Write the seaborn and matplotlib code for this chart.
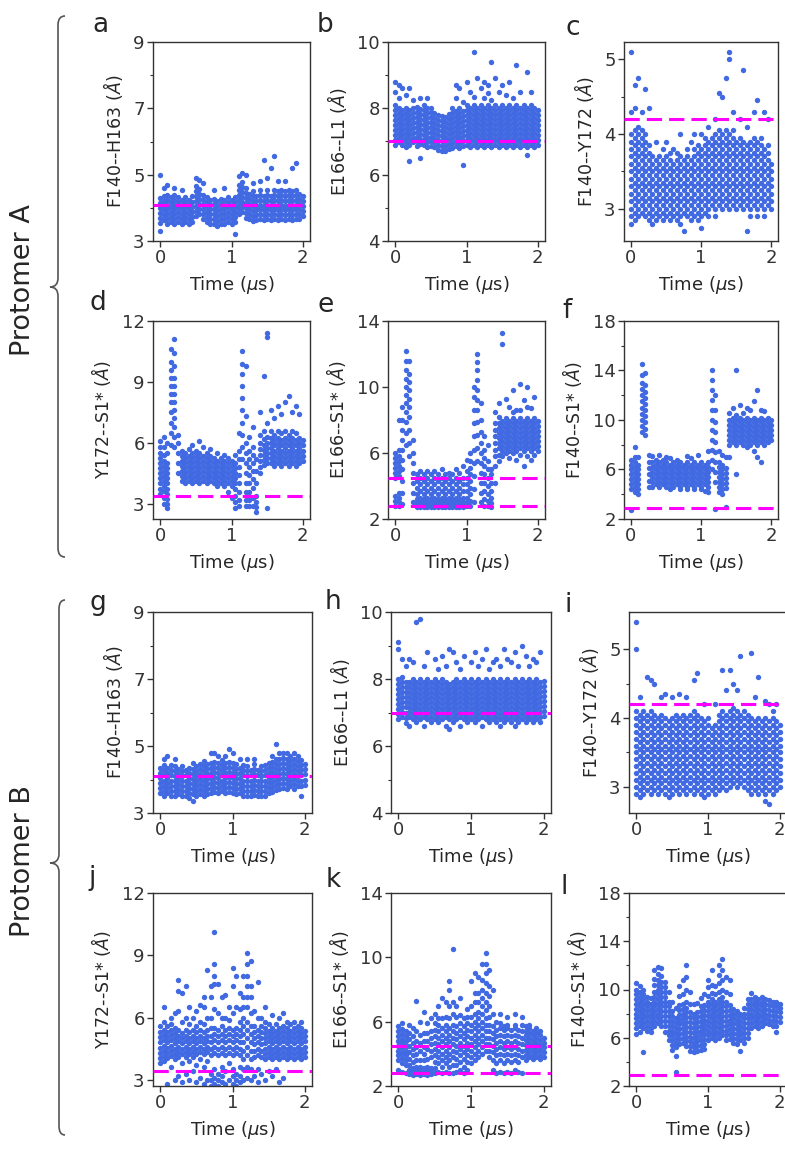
import pandas as pd
import matplotlib
matplotlib.use("Agg")
import matplotlib.pyplot as plt
import seaborn as sns
from matplotlib.path import Path
from matplotlib.patches import PathPatch

# simulation time (microseconds), one column of samples per entry
TIME = [0.00, 0.05, 0.10, 0.15, 0.20, 0.25, 0.30, 0.35, 0.40, 0.45,
        0.50, 0.55, 0.60, 0.65, 0.70, 0.75, 0.80, 0.85, 0.90, 0.95,
        1.00, 1.05, 1.10, 1.15, 1.20, 1.25, 1.30, 1.35, 1.40, 1.45,
        1.50, 1.55, 1.60, 1.65, 1.70, 1.75, 1.80, 1.85, 1.90, 1.95, 2.00]

# ---- Protomer A ----
A_F140_H163 = [
    [3.3, 3.55, 3.7, 3.85, 4.0, 4.15, 4.3, 5.0], [3.62, 3.77, 3.92, 4.07, 4.22, 4.37, 4.6],
    [3.5, 3.65, 3.8, 3.95, 4.1, 4.25, 4.4, 4.7], [3.57, 3.72, 3.87, 4.02, 4.17, 4.32],
    [3.5, 3.65, 3.8, 3.95, 4.1, 4.25, 4.4, 4.6], [3.57, 3.72, 3.87, 4.02, 4.17, 4.32],
    [3.5, 3.65, 3.8, 3.95, 4.1, 4.25, 4.55], [3.57, 3.72, 3.87, 4.02, 4.17, 4.32],
    [3.5, 3.65, 3.8, 3.95, 4.1, 4.25], [3.57, 3.72, 3.87, 4.02, 4.17, 4.35],
    [3.75, 3.9, 4.05, 4.2, 4.35, 4.5, 4.65, 4.9], [3.82, 3.97, 4.12, 4.27, 4.42, 4.57, 4.85],
    [3.65, 3.8, 3.95, 4.1, 4.25, 4.4, 4.75], [3.57, 3.72, 3.87, 4.02, 4.17, 4.32],
    [3.5, 3.65, 3.8, 3.95, 4.1, 4.25], [3.52, 3.67, 3.82, 3.97, 4.12, 4.27, 4.55],
    [3.45, 3.6, 3.75, 3.9, 4.05, 4.2], [3.52, 3.67, 3.82, 3.97, 4.12, 4.27],
    [3.5, 3.65, 3.8, 3.95, 4.1, 4.25, 4.6], [3.57, 3.72, 3.87, 4.02, 4.17, 4.32],
    [3.5, 3.65, 3.8, 3.95, 4.1, 4.25], [3.2, 3.57, 3.72, 3.87, 4.02, 4.17, 4.32],
    [3.8, 3.95, 4.1, 4.25, 4.4, 4.55, 4.7, 4.95], [3.87, 4.02, 4.17, 4.32, 4.47, 4.62, 4.77, 5.05],
    [3.7, 3.85, 4.0, 4.15, 4.3, 4.45, 4.6, 5.0], [3.67, 3.82, 3.97, 4.12, 4.27, 4.42],
    [3.6, 3.75, 3.9, 4.05, 4.2, 4.35, 4.5, 4.75], [3.62, 3.77, 3.92, 4.07, 4.22, 4.37],
    [3.65, 3.8, 3.95, 4.1, 4.25, 4.4, 4.55, 4.8], [3.62, 3.77, 3.92, 4.07, 4.22, 4.37, 5.45],
    [3.65, 3.8, 3.95, 4.1, 4.25, 4.4, 4.55, 4.9], [3.62, 3.77, 3.92, 4.07, 4.22, 4.37, 5.2],
    [3.65, 3.8, 3.95, 4.1, 4.25, 4.4, 4.55, 5.55], [3.62, 3.77, 3.92, 4.07, 4.22, 4.37, 4.52, 4.8],
    [3.65, 3.8, 3.95, 4.1, 4.25, 4.4, 4.55], [3.62, 3.77, 3.92, 4.07, 4.22, 4.37, 4.52, 4.8],
    [3.65, 3.8, 3.95, 4.1, 4.25, 4.4, 4.55], [3.62, 3.77, 3.92, 4.07, 4.22, 4.37, 4.52, 5.2],
    [3.65, 3.8, 3.95, 4.1, 4.25, 4.4, 4.55, 5.35], [3.67, 3.82, 3.97, 4.12, 4.27, 4.42],
    [3.75, 3.9, 4.05, 4.2, 4.35],
]

A_E166_L1 = [
    [6.9, 7.05, 7.2, 7.35, 7.5, 7.65, 7.8, 7.95, 8.1, 8.8, 8.5],
    [6.97, 7.12, 7.27, 7.42, 7.57, 7.72, 7.87, 8.02, 8.7, 8.3],
    [6.9, 7.05, 7.2, 7.35, 7.5, 7.65, 7.8, 7.95, 8.6],
    [6.82, 6.97, 7.12, 7.27, 7.42, 7.57, 7.72, 7.87, 8.02, 8.4],
    [6.4, 6.9, 7.05, 7.2, 7.35, 7.5, 7.65, 7.8, 7.95, 8.6],
    [6.97, 7.12, 7.27, 7.42, 7.57, 7.72, 7.87, 8.02, 8.25],
    [6.85, 7.0, 7.15, 7.3, 7.45, 7.6, 7.75, 7.9, 8.05],
    [6.5, 6.92, 7.07, 7.22, 7.37, 7.52, 7.67, 7.82, 7.97, 8.3],
    [6.9, 7.05, 7.2, 7.35, 7.5, 7.65, 7.8, 7.95, 8.1],
    [6.82, 6.97, 7.12, 7.27, 7.42, 7.57, 7.72, 7.87, 8.02, 8.3],
    [6.85, 7.0, 7.15, 7.3, 7.45, 7.6, 7.75, 7.9, 8.0],
    [6.82, 6.97, 7.12, 7.27, 7.42, 7.57, 7.72, 7.87],
    [6.75, 6.9, 7.05, 7.2, 7.35, 7.5, 7.65, 7.8],
    [6.72, 6.87, 7.02, 7.17, 7.32, 7.47, 7.62, 7.77],
    [6.7, 6.85, 7.0, 7.15, 7.3, 7.45, 7.6, 7.75],
    [6.77, 6.92, 7.07, 7.22, 7.37, 7.52, 7.67, 7.82],
    [6.8, 6.95, 7.1, 7.25, 7.4, 7.55, 7.7, 7.85, 8.0],
    [6.87, 7.02, 7.17, 7.32, 7.47, 7.62, 7.77, 7.92, 8.3, 8.7],
    [6.8, 6.95, 7.1, 7.25, 7.4, 7.55, 7.7, 7.85, 8.0, 8.6],
    [6.3, 6.87, 7.02, 7.17, 7.32, 7.47, 7.62, 7.77, 7.92, 8.2],
    [6.9, 7.05, 7.2, 7.35, 7.5, 7.65, 7.8, 7.95, 8.1, 8.8],
    [6.82, 6.97, 7.12, 7.27, 7.42, 7.57, 7.72, 7.87, 8.02, 8.5],
    [6.9, 7.05, 7.2, 7.35, 7.5, 7.65, 7.8, 7.95, 8.1, 8.35, 9.7],
    [6.82, 6.97, 7.12, 7.27, 7.42, 7.57, 7.72, 7.87, 8.02, 8.9],
    [6.9, 7.05, 7.2, 7.35, 7.5, 7.65, 7.8, 7.95, 8.1, 8.6],
    [6.82, 6.97, 7.12, 7.27, 7.42, 7.57, 7.72, 7.87, 8.02, 8.3, 8.8],
    [6.9, 7.05, 7.2, 7.35, 7.5, 7.65, 7.8, 7.95, 8.1, 8.45, 8.7],
    [6.82, 6.97, 7.12, 7.27, 7.42, 7.57, 7.72, 7.87, 8.02, 8.25, 9.4],
    [6.9, 7.05, 7.2, 7.35, 7.5, 7.65, 7.8, 7.95, 8.1, 8.9],
    [6.82, 6.97, 7.12, 7.27, 7.42, 7.57, 7.72, 7.87, 8.02, 8.5],
    [6.9, 7.05, 7.2, 7.35, 7.5, 7.65, 7.8, 7.95, 8.1, 8.7],
    [6.82, 6.97, 7.12, 7.27, 7.42, 7.57, 7.72, 7.87, 8.02, 8.4],
    [6.9, 7.05, 7.2, 7.35, 7.5, 7.65, 7.8, 7.95, 8.1, 8.8],
    [6.82, 6.97, 7.12, 7.27, 7.42, 7.57, 7.72, 7.87, 8.02, 8.3],
    [6.9, 7.05, 7.2, 7.35, 7.5, 7.65, 7.8, 7.95, 8.1, 9.3],
    [6.82, 6.97, 7.12, 7.27, 7.42, 7.57, 7.72, 7.87, 8.02, 8.5],
    [6.9, 7.05, 7.2, 7.35, 7.5, 7.65, 7.8, 7.95, 8.1],
    [6.6, 6.82, 6.97, 7.12, 7.27, 7.42, 7.57, 7.72, 7.87, 8.02, 9.1],
    [6.9, 7.05, 7.2, 7.35, 7.5, 7.65, 7.8, 7.95, 8.1, 8.5],
    [6.82, 6.97, 7.12, 7.27, 7.42, 7.57, 7.72, 7.87, 8.02],
    [6.9, 7.05, 7.2, 7.35, 7.5, 7.65, 7.8, 7.95],
]

A_F140_Y172 = [
    [2.8, 2.9, 3.0, 3.1, 3.2, 3.3, 3.4, 3.5, 3.6, 3.7, 3.8, 3.9, 4.0, 4.3, 5.1],
    [2.85, 2.95, 3.05, 3.15, 3.25, 3.35, 3.45, 3.55, 3.65, 3.75, 3.85, 3.95, 4.05, 4.35, 4.65],
    [2.9, 3.0, 3.1, 3.2, 3.3, 3.4, 3.5, 3.6, 3.7, 3.8, 3.9, 4.0, 4.1, 4.75],
    [2.95, 3.05, 3.15, 3.25, 3.35, 3.45, 3.55, 3.65, 3.75, 3.85, 3.95, 4.05, 4.3],
    [2.9, 3.0, 3.1, 3.2, 3.3, 3.4, 3.5, 3.6, 3.7, 3.8, 3.9, 4.0, 4.6],
    [2.85, 2.95, 3.05, 3.15, 3.25, 3.35, 3.45, 3.55, 3.65, 3.75, 3.85, 4.35],
    [2.8, 2.9, 3.0, 3.1, 3.2, 3.3, 3.4, 3.5, 3.6, 3.7],
    [2.85, 2.95, 3.05, 3.15, 3.25, 3.35, 3.45, 3.55, 3.65, 3.9],
    [2.9, 3.0, 3.1, 3.2, 3.3, 3.4, 3.5, 3.6, 3.7],
    [2.85, 2.95, 3.05, 3.15, 3.25, 3.35, 3.45, 3.55, 3.65, 3.8],
    [2.9, 3.0, 3.1, 3.2, 3.3, 3.4, 3.5, 3.6, 3.7, 3.9],
    [2.85, 2.95, 3.05, 3.15, 3.25, 3.35, 3.45, 3.55, 3.65, 3.75],
    [2.9, 3.0, 3.1, 3.2, 3.3, 3.4, 3.5, 3.6, 3.8],
    [2.85, 2.95, 3.05, 3.15, 3.25, 3.35, 3.45, 3.55, 3.65, 3.75],
    [2.8, 2.9, 3.0, 3.1, 3.2, 3.3, 3.4, 3.5, 3.6, 3.7, 4.0],
    [2.7, 2.95, 3.05, 3.15, 3.25, 3.35, 3.45, 3.55, 3.65],
    [2.9, 3.0, 3.1, 3.2, 3.3, 3.4, 3.5, 3.6, 3.7, 3.8],
    [2.85, 2.95, 3.05, 3.15, 3.25, 3.35, 3.45, 3.55, 3.65, 3.9],
    [2.9, 3.0, 3.1, 3.2, 3.3, 3.4, 3.5, 3.6, 3.7, 3.8, 4.0],
    [2.85, 2.95, 3.05, 3.15, 3.25, 3.35, 3.45, 3.55, 3.65, 3.75, 3.85],
    [2.75, 2.9, 3.0, 3.1, 3.2, 3.3, 3.4, 3.5, 3.6, 3.7, 3.8, 4.0],
    [2.95, 3.05, 3.15, 3.25, 3.35, 3.45, 3.55, 3.65, 3.75, 3.85, 3.95],
    [2.9, 3.0, 3.1, 3.2, 3.3, 3.4, 3.5, 3.6, 3.7, 3.8, 3.9, 4.1],
    [3.05, 3.15, 3.25, 3.35, 3.45, 3.55, 3.65, 3.75, 3.85, 3.95],
    [2.9, 3.0, 3.1, 3.2, 3.3, 3.4, 3.5, 3.6, 3.7, 3.8, 3.9, 4.0, 4.2],
    [3.05, 3.15, 3.25, 3.35, 3.45, 3.55, 3.65, 3.75, 3.85, 3.95, 4.05, 4.55],
    [3.0, 3.1, 3.2, 3.3, 3.4, 3.5, 3.6, 3.7, 3.8, 3.9, 4.0, 4.5],
    [3.05, 3.15, 3.25, 3.35, 3.45, 3.55, 3.65, 3.75, 3.85, 3.95, 4.05, 4.75],
    [3.0, 3.1, 3.2, 3.3, 3.4, 3.5, 3.6, 3.7, 3.8, 3.9, 4.0, 5.0, 5.1],
    [3.05, 3.15, 3.25, 3.35, 3.45, 3.55, 3.65, 3.75, 3.85, 3.95, 4.05, 4.3],
    [3.0, 3.1, 3.2, 3.3, 3.4, 3.5, 3.6, 3.7, 3.8, 3.9],
    [3.05, 3.15, 3.25, 3.35, 3.45, 3.55, 3.65, 3.75, 3.85, 3.95, 4.2],
    [3.0, 3.1, 3.2, 3.3, 3.4, 3.5, 3.6, 3.7, 3.8, 3.9, 4.85],
    [2.7, 3.05, 3.15, 3.25, 3.35, 3.45, 3.55, 3.65, 3.75, 3.85, 4.1],
    [2.9, 3.0, 3.1, 3.2, 3.3, 3.4, 3.5, 3.6, 3.7, 3.8, 3.9],
    [3.05, 3.15, 3.25, 3.35, 3.45, 3.55, 3.65, 3.75, 3.85, 3.95, 4.3],
    [2.9, 3.0, 3.1, 3.2, 3.3, 3.4, 3.5, 3.6, 3.7, 3.8, 3.9, 4.45],
    [3.05, 3.15, 3.25, 3.35, 3.45, 3.55, 3.65, 3.75, 3.85, 3.95],
    [2.9, 3.0, 3.1, 3.2, 3.3, 3.4, 3.5, 3.6, 3.7, 3.8, 4.3],
    [3.05, 3.15, 3.25, 3.35, 3.45, 3.55, 3.65, 3.75, 3.85, 4.2],
    [3.0, 3.1, 3.2, 3.3, 3.4, 3.5, 3.6],
]

A_Y172_S1 = [
    [3.5, 3.75, 4.0, 4.25, 4.5, 4.75, 5.0, 5.25, 5.5, 5.8, 6.1],
    [3.0, 3.3, 3.62, 3.87, 4.12, 4.37, 4.62, 4.87, 5.12, 5.4, 5.8, 6.3],
    [2.8, 3.0, 3.25, 3.5, 3.75, 4.0, 4.25, 4.5, 4.75, 5.0, 5.5, 6.0],
    [5.9, 6.5, 7.0, 7.5, 8.0, 8.4, 8.8, 9.2, 9.6, 10.0, 10.6],
    [5.8, 6.3, 6.8, 7.2, 7.6, 8.0, 8.4, 8.8, 9.2, 9.8, 10.4, 11.1],
    [4.5, 5.0, 5.5, 6.0, 6.4],
    [4.12, 4.37, 4.62, 4.87, 5.12, 5.37, 5.6],
    [4.0, 4.25, 4.5, 4.75, 5.0, 5.25, 5.5],
    [4.12, 4.37, 4.62, 4.87, 5.12, 5.37, 5.7],
    [4.0, 4.25, 4.5, 4.75, 5.0, 5.25, 5.5, 5.9],
    [4.12, 4.37, 4.62, 4.87, 5.12, 5.37, 5.6],
    [4.0, 4.25, 4.5, 4.75, 5.0, 5.25, 5.5, 6.1],
    [4.12, 4.37, 4.62, 4.87, 5.12, 5.37, 5.8],
    [4.0, 4.25, 4.5, 4.75, 5.0, 5.25, 5.5],
    [4.12, 4.37, 4.62, 4.87, 5.12, 5.37, 5.7],
    [4.0, 4.25, 4.5, 4.75, 5.0, 5.25],
    [3.87, 4.12, 4.37, 4.62, 4.87, 5.12, 5.5],
    [4.0, 4.25, 4.5, 4.75, 5.0, 5.25],
    [3.87, 4.12, 4.37, 4.62, 4.87, 5.12, 5.4],
    [3.6, 4.0, 4.25, 4.5, 4.75, 5.0, 5.25],
    [3.3, 3.87, 4.12, 4.37, 4.62, 4.87, 5.12],
    [2.8, 3.1, 3.4, 3.75, 4.0, 4.25, 4.5, 4.75, 5.0, 5.4],
    [2.9, 3.2, 3.6, 4.0, 4.4, 4.8, 5.2, 5.6, 6.5],
    [5.2, 5.8, 6.4, 7.0, 7.6, 8.2, 8.8, 9.4, 9.9, 10.5],
    [2.9, 3.2, 3.6, 4.0, 4.5, 5.0, 5.5, 6.0, 7.3, 9.8],
    [2.9, 3.2, 3.6, 4.0, 4.4, 4.8, 5.2, 5.6, 6.3],
    [2.9, 3.3, 3.8, 4.2, 4.6, 5.0, 5.4, 5.8, 6.8],
    [2.6, 2.85, 3.1, 3.4, 4.0, 4.6, 5.2],
    [4.5, 4.8, 5.1, 5.4, 5.7, 6.0, 6.4, 7.5],
    [4.9, 5.15, 5.4, 5.65, 5.9, 6.2, 6.6, 9.3],
    [2.8, 5.0, 5.25, 5.5, 5.75, 6.0, 6.3, 7.0, 11.2, 11.4],
    [5.0, 5.25, 5.5, 5.75, 6.0, 6.25, 6.6, 7.6],
    [4.87, 5.12, 5.37, 5.62, 5.87, 6.12, 6.4, 7.2],
    [5.0, 5.25, 5.5, 5.75, 6.0, 6.25, 6.6, 7.8],
    [4.87, 5.12, 5.37, 5.62, 5.87, 6.12, 6.5, 7.4],
    [5.0, 5.25, 5.5, 5.75, 6.0, 6.25, 6.6, 8.0],
    [4.87, 5.12, 5.37, 5.62, 5.87, 6.12, 6.4, 8.3],
    [5.0, 5.25, 5.5, 5.75, 6.0, 6.25, 6.6, 7.5],
    [4.87, 5.12, 5.37, 5.62, 5.87, 6.12, 6.5, 7.8],
    [5.0, 5.25, 5.5, 5.75, 6.0, 6.25, 7.4],
    [5.12, 5.37, 5.62, 5.87, 6.12],
]

A_E166_S1 = [
    [2.8, 3.1, 3.4, 4.5, 4.8, 5.1, 5.4, 5.7, 6.0],
    [2.8, 3.0, 3.3, 3.6, 4.6, 4.9, 5.2, 5.5, 5.8, 6.2, 8.0],
    [2.9, 3.6, 4.3, 5.0, 5.6, 6.2, 6.8, 7.4, 8.0, 8.8],
    [6.5, 7.2, 7.9, 8.5, 9.0, 9.5, 10.0, 10.5, 11.0, 11.6, 12.2],
    [5.8, 6.6, 7.4, 8.2, 8.8, 9.3, 9.8, 10.3, 10.8, 11.6],
    [3.0, 3.6, 4.2, 4.8, 5.4, 6.0, 6.8],
    [2.75, 2.95, 3.2, 3.5, 3.9, 4.3, 4.7],
    [2.7, 2.85, 3.05, 3.3, 3.7, 4.1, 4.5, 4.9],
    [2.75, 2.95, 3.2, 3.5, 3.9, 4.3, 4.7],
    [2.7, 2.85, 3.05, 3.3, 3.7, 4.1, 4.5, 4.9],
    [2.75, 2.95, 3.2, 3.5, 3.9, 4.3, 4.7],
    [2.7, 2.85, 3.05, 3.3, 3.7, 4.1, 4.5, 4.9],
    [2.75, 2.95, 3.2, 3.5, 3.9, 4.3, 4.7],
    [2.7, 2.85, 3.05, 3.3, 3.7, 4.1, 4.5, 5.0],
    [2.75, 2.95, 3.2, 3.5, 3.9, 4.3, 4.7],
    [2.7, 2.85, 3.05, 3.3, 3.7, 4.1, 4.5, 4.8],
    [2.75, 2.95, 3.2, 3.5, 3.9, 4.3, 4.7],
    [2.7, 2.85, 3.05, 3.3, 3.7, 4.1, 4.5, 5.0],
    [2.75, 2.95, 3.2, 3.5, 3.9, 4.3, 4.8],
    [2.7, 2.85, 3.05, 3.3, 3.7, 4.1, 4.5, 5.2],
    [2.8, 3.0, 3.3, 3.7, 4.1, 4.5, 4.9, 5.6],
    [2.8, 3.1, 3.5, 3.9, 4.3, 4.7, 5.1, 5.5, 6.0],
    [3.0, 3.8, 4.6, 5.4, 6.2, 7.0, 7.8, 8.6, 9.4, 10.0],
    [5.5, 6.3, 7.1, 7.9, 8.6, 9.2, 9.8, 10.4, 11.0, 11.5, 12.0],
    [3.0, 3.6, 4.2, 4.8, 5.4, 6.0, 6.6, 7.3, 8.0, 9.0],
    [2.8, 3.2, 3.7, 4.2, 4.7, 5.2, 5.7, 6.2, 7.0],
    [2.8, 3.1, 3.5, 4.0, 4.5, 5.0, 5.5, 6.5],
    [2.7, 2.95, 3.3, 3.7, 4.2, 4.7, 5.0],
    [4.2, 5.2, 5.8, 6.2, 6.6, 7.0, 7.4, 7.8, 8.5],
    [5.5, 5.9, 6.3, 6.6, 6.9, 7.2, 7.5, 7.8, 8.2, 9.0],
    [5.8, 6.15, 6.45, 6.75, 7.05, 7.35, 7.65, 7.95, 12.6, 13.3],
    [6.0, 6.3, 6.6, 6.9, 7.2, 7.5, 7.8, 8.1, 9.3],
    [5.7, 6.15, 6.45, 6.75, 7.05, 7.35, 7.65, 7.95, 8.8],
    [6.0, 6.3, 6.6, 6.9, 7.2, 7.5, 7.8, 8.1, 8.5, 9.8],
    [5.6, 6.15, 6.45, 6.75, 7.05, 7.35, 7.65, 7.95, 8.6],
    [5.9, 6.3, 6.6, 6.9, 7.2, 7.5, 7.8, 8.1, 8.6, 10.2],
    [5.2, 6.15, 6.45, 6.75, 7.05, 7.35, 7.65, 7.95, 9.2],
    [5.8, 6.3, 6.6, 6.9, 7.2, 7.5, 7.8, 8.1, 8.8, 10.0],
    [5.6, 6.15, 6.45, 6.75, 7.05, 7.35, 7.65, 7.95, 8.7],
    [5.9, 6.3, 6.6, 6.9, 7.2, 7.5, 7.8, 8.1, 9.4],
    [6.15, 6.45, 6.75, 7.05, 7.35, 7.65, 7.95],
]

A_F140_S1 = [
    [2.7, 4.4, 4.8, 5.2, 5.6, 6.0, 6.4, 6.8],
    [4.2, 4.6, 5.0, 5.4, 5.8, 6.2, 6.6, 7.0, 7.8],
    [4.0, 4.4, 4.8, 5.2, 5.6, 6.0, 6.4, 7.0],
    [9.0, 9.5, 10.0, 10.5, 11.0, 11.5, 12.0, 12.5, 13.0, 13.6, 14.5],
    [8.8, 9.3, 9.8, 10.3, 10.8, 11.3, 11.8, 12.3, 12.8, 13.8],
    [4.6, 5.1, 5.6, 6.1, 6.6, 7.2],
    [4.6, 5.0, 5.4, 5.8, 6.2, 6.6, 7.1],
    [4.8, 5.2, 5.6, 6.0, 6.4, 6.8],
    [4.6, 5.0, 5.4, 5.8, 6.2, 6.6, 7.2],
    [4.8, 5.2, 5.6, 6.0, 6.4, 6.8],
    [4.6, 5.0, 5.4, 5.8, 6.2, 6.6, 7.0],
    [4.4, 4.8, 5.2, 5.6, 6.0, 6.4, 6.9],
    [4.6, 5.0, 5.4, 5.8, 6.2, 6.6],
    [4.8, 5.2, 5.6, 6.0, 6.4, 6.8],
    [4.4, 4.6, 5.0, 5.4, 5.8, 6.2, 6.6],
    [4.8, 5.2, 5.6, 6.0, 6.4],
    [4.4, 4.6, 5.0, 5.4, 5.8, 6.2, 6.6, 7.1],
    [4.8, 5.2, 5.6, 6.0, 6.4, 6.9],
    [4.4, 4.6, 5.0, 5.4, 5.8, 6.2, 6.6],
    [4.8, 5.2, 5.6, 6.0, 6.4, 7.2],
    [4.4, 4.6, 5.0, 5.4, 5.8, 6.2, 6.6],
    [4.3, 4.8, 5.2, 5.6, 6.0, 6.4],
    [4.2, 4.6, 5.0, 5.4, 5.8, 6.2, 6.6, 7.5],
    [6.0, 6.8, 7.6, 8.4, 9.2, 10.0, 10.8, 11.6, 12.4, 13.2, 14.0],
    [2.8, 5.0, 5.8, 6.6, 7.4, 8.2, 9.0, 9.8, 10.8, 12.0],
    [4.2, 4.6, 5.0, 5.4, 5.8, 6.2, 6.6, 7.5],
    [4.0, 4.4, 4.8, 5.2, 5.6, 6.0, 6.4, 7.2],
    [3.0, 4.5, 4.9, 5.3, 5.7, 6.1, 7.0],
    [7.0, 8.0, 8.4, 8.8, 9.2, 9.6, 10.0, 10.6],
    [8.2, 8.6, 9.0, 9.4, 9.8, 10.2, 11.0],
    [5.6, 8.0, 8.4, 8.8, 9.2, 9.6, 10.0, 10.4, 14.0],
    [8.2, 8.6, 9.0, 9.4, 9.8, 10.2, 11.2],
    [8.0, 8.4, 8.8, 9.2, 9.6, 10.0, 10.6],
    [7.8, 8.2, 8.6, 9.0, 9.4, 9.8, 10.2, 11.0],
    [8.0, 8.4, 8.8, 9.2, 9.6, 10.0, 10.8],
    [7.5, 8.2, 8.6, 9.0, 9.4, 9.8, 10.2, 11.5],
    [7.0, 8.0, 8.4, 8.8, 9.2, 9.6, 10.0, 12.4],
    [6.6, 8.2, 8.6, 9.0, 9.4, 9.8, 10.2, 10.8],
    [8.0, 8.4, 8.8, 9.2, 9.6, 10.0, 10.7],
    [8.2, 8.6, 9.0, 9.4, 9.8, 10.2],
    [8.4, 8.8, 9.2, 9.6, 10.0],
]

# ---- Protomer B ----
B_F140_H163 = [
    [3.6, 3.75, 3.9, 4.05, 4.2, 4.35], [3.52, 3.67, 3.82, 3.97, 4.12, 4.27, 4.42, 4.6],
    [3.6, 3.75, 3.9, 4.05, 4.2, 4.35, 4.7], [3.52, 3.67, 3.82, 3.97, 4.12, 4.27, 4.42],
    [3.5, 3.65, 3.8, 3.95, 4.1, 4.25, 4.4, 4.6], [3.57, 3.72, 3.87, 4.02, 4.17, 4.32],
    [3.5, 3.65, 3.8, 3.95, 4.1, 4.25, 4.4], [3.52, 3.67, 3.82, 3.97, 4.12, 4.27],
    [3.45, 3.6, 3.75, 3.9, 4.05, 4.2, 4.35], [3.35, 3.57, 3.72, 3.87, 4.02, 4.17, 4.32, 4.5],
    [3.5, 3.65, 3.8, 3.95, 4.1, 4.25, 4.4], [3.57, 3.72, 3.87, 4.02, 4.17, 4.32, 4.47],
    [3.5, 3.65, 3.8, 3.95, 4.1, 4.25, 4.4, 4.55], [3.57, 3.72, 3.87, 4.02, 4.17, 4.32, 4.47],
    [3.6, 3.75, 3.9, 4.05, 4.2, 4.35, 4.5, 4.8], [3.62, 3.77, 3.92, 4.07, 4.22, 4.37, 4.52, 4.8],
    [3.6, 3.75, 3.9, 4.05, 4.2, 4.35, 4.5, 4.7], [3.67, 3.82, 3.97, 4.12, 4.27, 4.42, 4.57],
    [3.6, 3.75, 3.9, 4.05, 4.2, 4.35, 4.5, 4.7], [3.62, 3.77, 3.92, 4.07, 4.22, 4.37, 4.52, 4.9],
    [3.6, 3.75, 3.9, 4.05, 4.2, 4.35, 4.5, 4.8], [3.57, 3.72, 3.87, 4.02, 4.17, 4.32, 4.47],
    [3.6, 3.75, 3.9, 4.05, 4.2, 4.35, 4.6], [3.52, 3.67, 3.82, 3.97, 4.12, 4.27, 4.42],
    [3.5, 3.65, 3.8, 3.95, 4.1, 4.25, 4.4, 4.6], [3.52, 3.67, 3.82, 3.97, 4.12, 4.27],
    [3.55, 3.7, 3.85, 4.0, 4.15, 4.3, 4.45, 4.6], [3.52, 3.67, 3.82, 3.97, 4.12, 4.27],
    [3.5, 3.65, 3.8, 3.95, 4.1, 4.25, 4.4], [3.52, 3.67, 3.82, 3.97, 4.12, 4.27, 4.42],
    [3.6, 3.75, 3.9, 4.05, 4.2, 4.35, 4.5], [3.62, 3.77, 3.92, 4.07, 4.22, 4.37, 4.52, 4.7],
    [3.7, 3.85, 4.0, 4.15, 4.3, 4.45, 4.6, 5.05], [3.72, 3.87, 4.02, 4.17, 4.32, 4.47, 4.62, 4.8],
    [3.75, 3.9, 4.05, 4.2, 4.35, 4.5, 4.65, 4.8], [3.72, 3.87, 4.02, 4.17, 4.32, 4.47, 4.62, 4.8],
    [3.8, 3.95, 4.1, 4.25, 4.4, 4.55, 4.7], [3.72, 3.87, 4.02, 4.17, 4.32, 4.47, 4.62, 4.8],
    [3.8, 3.95, 4.1, 4.25, 4.4, 4.55, 4.7], [3.5, 3.82, 3.97, 4.12, 4.27, 4.42, 4.57],
    [3.85, 4.0, 4.15, 4.3, 4.45],
]

B_E166_L1 = [
    [6.8, 6.95, 7.1, 7.25, 7.4, 7.55, 7.7, 7.85, 8.0, 8.9, 9.1],
    [6.87, 7.02, 7.17, 7.32, 7.47, 7.62, 7.77, 7.92, 8.07, 8.6],
    [6.7, 6.85, 7.0, 7.15, 7.3, 7.45, 7.6, 7.75, 7.9, 8.4],
    [6.6, 6.87, 7.02, 7.17, 7.32, 7.47, 7.62, 7.77, 7.92, 8.6],
    [6.8, 6.95, 7.1, 7.25, 7.4, 7.55, 7.7, 7.85, 8.0, 8.5],
    [6.72, 6.87, 7.02, 7.17, 7.32, 7.47, 7.62, 7.77, 7.92, 9.7],
    [6.8, 6.95, 7.1, 7.25, 7.4, 7.55, 7.7, 7.85, 8.0, 9.8],
    [6.6, 6.87, 7.02, 7.17, 7.32, 7.47, 7.62, 7.77, 7.92, 8.4],
    [6.8, 6.95, 7.1, 7.25, 7.4, 7.55, 7.7, 7.85, 8.0, 8.8],
    [6.72, 6.87, 7.02, 7.17, 7.32, 7.47, 7.62, 7.77, 7.92],
    [6.8, 6.95, 7.1, 7.25, 7.4, 7.55, 7.7, 7.85, 8.0, 8.6],
    [6.72, 6.87, 7.02, 7.17, 7.32, 7.47, 7.62, 7.77, 7.92, 8.3],
    [6.8, 6.95, 7.1, 7.25, 7.4, 7.55, 7.7, 7.85, 8.0, 8.7],
    [6.6, 6.87, 7.02, 7.17, 7.32, 7.47, 7.62, 7.77, 7.92, 8.4],
    [6.5, 6.8, 6.95, 7.1, 7.25, 7.4, 7.55, 7.7, 7.85, 8.9],
    [6.72, 6.87, 7.02, 7.17, 7.32, 7.47, 7.62, 7.77, 7.92, 8.8],
    [6.8, 6.95, 7.1, 7.25, 7.4, 7.55, 7.7, 7.85, 8.0, 8.5],
    [6.6, 6.87, 7.02, 7.17, 7.32, 7.47, 7.62, 7.77, 7.92, 8.3],
    [6.8, 6.95, 7.1, 7.25, 7.4, 7.55, 7.7, 7.85, 8.0, 8.7],
    [6.72, 6.87, 7.02, 7.17, 7.32, 7.47, 7.62, 7.77, 7.92],
    [6.8, 6.95, 7.1, 7.25, 7.4, 7.55, 7.7, 7.85, 8.0, 8.5],
    [6.72, 6.87, 7.02, 7.17, 7.32, 7.47, 7.62, 7.77, 7.92, 8.8],
    [6.8, 6.95, 7.1, 7.25, 7.4, 7.55, 7.7, 7.85, 8.0, 8.4],
    [6.6, 6.87, 7.02, 7.17, 7.32, 7.47, 7.62, 7.77, 7.92, 8.6],
    [6.8, 6.95, 7.1, 7.25, 7.4, 7.55, 7.7, 7.85, 8.0, 8.9],
    [6.72, 6.87, 7.02, 7.17, 7.32, 7.47, 7.62, 7.77, 7.92, 8.3],
    [6.8, 6.95, 7.1, 7.25, 7.4, 7.55, 7.7, 7.85, 8.0, 8.5],
    [6.72, 6.87, 7.02, 7.17, 7.32, 7.47, 7.62, 7.77, 7.92, 8.6],
    [6.6, 6.8, 6.95, 7.1, 7.25, 7.4, 7.55, 7.7, 7.85, 8.0, 8.4],
    [6.72, 6.87, 7.02, 7.17, 7.32, 7.47, 7.62, 7.77, 7.92, 8.9],
    [6.8, 6.95, 7.1, 7.25, 7.4, 7.55, 7.7, 7.85, 8.0, 8.6],
    [6.72, 6.87, 7.02, 7.17, 7.32, 7.47, 7.62, 7.77, 7.92, 8.5],
    [6.6, 6.8, 6.95, 7.1, 7.25, 7.4, 7.55, 7.7, 7.85, 8.0, 8.8],
    [6.72, 6.87, 7.02, 7.17, 7.32, 7.47, 7.62, 7.77, 7.92, 8.4],
    [6.8, 6.95, 7.1, 7.25, 7.4, 7.55, 7.7, 7.85, 8.0, 9.0],
    [6.72, 6.87, 7.02, 7.17, 7.32, 7.47, 7.62, 7.77, 7.92, 8.7],
    [6.8, 6.95, 7.1, 7.25, 7.4, 7.55, 7.7, 7.85, 8.0, 8.4],
    [6.72, 6.87, 7.02, 7.17, 7.32, 7.47, 7.62, 7.77, 7.92, 8.6],
    [6.8, 6.95, 7.1, 7.25, 7.4, 7.55, 7.7, 7.85, 8.0, 8.5],
    [6.72, 6.87, 7.02, 7.17, 7.32, 7.47, 7.62, 7.77, 7.92, 8.8],
    [6.9, 7.05, 7.2, 7.35, 7.5, 7.65, 7.8, 7.95],
]

B_F140_Y172 = [
    [2.9, 3.0, 3.1, 3.2, 3.3, 3.4, 3.5, 3.6, 3.7, 3.8, 3.9, 4.0, 4.1, 5.0, 5.4],
    [2.85, 2.95, 3.05, 3.15, 3.25, 3.35, 3.45, 3.55, 3.65, 3.75, 3.85, 3.95, 4.05, 4.3],
    [2.9, 3.0, 3.1, 3.2, 3.3, 3.4, 3.5, 3.6, 3.7, 3.8, 3.9, 4.0, 4.1],
    [2.95, 3.05, 3.15, 3.25, 3.35, 3.45, 3.55, 3.65, 3.75, 3.85, 3.95, 4.05, 4.6],
    [2.9, 3.0, 3.1, 3.2, 3.3, 3.4, 3.5, 3.6, 3.7, 3.8, 3.9, 4.0, 4.1, 4.55],
    [2.95, 3.05, 3.15, 3.25, 3.35, 3.45, 3.55, 3.65, 3.75, 3.85, 3.95, 4.05, 4.5],
    [2.9, 3.0, 3.1, 3.2, 3.3, 3.4, 3.5, 3.6, 3.7, 3.8, 3.9, 4.0],
    [2.95, 3.05, 3.15, 3.25, 3.35, 3.45, 3.55, 3.65, 3.75, 3.85, 3.95, 4.05, 4.3],
    [2.9, 3.0, 3.1, 3.2, 3.3, 3.4, 3.5, 3.6, 3.7, 3.8, 3.9, 4.0, 4.35],
    [2.85, 2.95, 3.05, 3.15, 3.25, 3.35, 3.45, 3.55, 3.65, 3.75, 3.85, 3.95],
    [2.9, 3.0, 3.1, 3.2, 3.3, 3.4, 3.5, 3.6, 3.7, 3.8, 3.9, 4.0, 4.3],
    [2.95, 3.05, 3.15, 3.25, 3.35, 3.45, 3.55, 3.65, 3.75, 3.85, 3.95, 4.05],
    [2.9, 3.0, 3.1, 3.2, 3.3, 3.4, 3.5, 3.6, 3.7, 3.8, 3.9, 4.0, 4.35],
    [2.95, 3.05, 3.15, 3.25, 3.35, 3.45, 3.55, 3.65, 3.75, 3.85, 3.95, 4.05],
    [2.9, 3.0, 3.1, 3.2, 3.3, 3.4, 3.5, 3.6, 3.7, 3.8, 3.9, 4.0, 4.3],
    [2.95, 3.05, 3.15, 3.25, 3.35, 3.45, 3.55, 3.65, 3.75, 3.85, 3.95, 4.05],
    [2.9, 3.0, 3.1, 3.2, 3.3, 3.4, 3.5, 3.6, 3.7, 3.8, 3.9, 4.0, 4.1, 4.55],
    [2.95, 3.05, 3.15, 3.25, 3.35, 3.45, 3.55, 3.65, 3.75, 3.85, 3.95, 4.05, 4.65],
    [2.9, 3.0, 3.1, 3.2, 3.3, 3.4, 3.5, 3.6, 3.7, 3.8, 3.9, 4.0],
    [2.85, 2.95, 3.05, 3.15, 3.25, 3.35, 3.45, 3.55, 3.65, 3.75, 3.85, 3.95, 4.2],
    [2.9, 3.0, 3.1, 3.2, 3.3, 3.4, 3.5, 3.6, 3.7, 3.8, 3.9, 4.0],
    [2.95, 3.05, 3.15, 3.25, 3.35, 3.45, 3.55, 3.65, 3.75, 3.85],
    [2.9, 3.0, 3.1, 3.2, 3.3, 3.4, 3.5, 3.6, 3.7, 3.8, 3.9, 4.2],
    [2.95, 3.05, 3.15, 3.25, 3.35, 3.45, 3.55, 3.65, 3.75, 3.85, 3.95, 4.05],
    [3.0, 3.1, 3.2, 3.3, 3.4, 3.5, 3.6, 3.7, 3.8, 3.9, 4.0, 4.1, 4.7],
    [2.95, 3.05, 3.15, 3.25, 3.35, 3.45, 3.55, 3.65, 3.75, 3.85, 3.95, 4.05, 4.4],
    [3.0, 3.1, 3.2, 3.3, 3.4, 3.5, 3.6, 3.7, 3.8, 3.9, 4.0, 4.1, 4.7],
    [3.05, 3.15, 3.25, 3.35, 3.45, 3.55, 3.65, 3.75, 3.85, 3.95, 4.05, 4.15, 4.5],
    [3.0, 3.1, 3.2, 3.3, 3.4, 3.5, 3.6, 3.7, 3.8, 3.9, 4.0, 4.1, 4.4],
    [3.05, 3.15, 3.25, 3.35, 3.45, 3.55, 3.65, 3.75, 3.85, 3.95, 4.05, 4.9],
    [3.0, 3.1, 3.2, 3.3, 3.4, 3.5, 3.6, 3.7, 3.8, 3.9, 4.0, 4.1],
    [2.95, 3.05, 3.15, 3.25, 3.35, 3.45, 3.55, 3.65, 3.75, 3.85, 3.95, 4.05],
    [2.9, 3.0, 3.1, 3.2, 3.3, 3.4, 3.5, 3.6, 3.7, 3.8, 3.9, 4.0, 4.95],
    [2.95, 3.05, 3.15, 3.25, 3.35, 3.45, 3.55, 3.65, 3.75, 3.85, 3.95, 4.3],
    [2.9, 3.0, 3.1, 3.2, 3.3, 3.4, 3.5, 3.6, 3.7, 3.8, 3.9, 4.0, 4.6],
    [2.95, 3.05, 3.15, 3.25, 3.35, 3.45, 3.55, 3.65, 3.75, 3.85, 3.95],
    [2.8, 2.9, 3.0, 3.1, 3.2, 3.3, 3.4, 3.5, 3.6, 3.7, 3.8, 3.9, 4.0, 4.25],
    [2.75, 2.95, 3.05, 3.15, 3.25, 3.35, 3.45, 3.55, 3.65, 3.75, 3.85, 3.95, 4.2],
    [2.9, 3.0, 3.1, 3.2, 3.3, 3.4, 3.5, 3.6, 3.7, 3.8, 3.9, 4.0, 4.1],
    [2.95, 3.05, 3.15, 3.25, 3.35, 3.45, 3.55, 3.65, 3.75, 3.85, 3.95, 4.2],
    [3.0, 3.1, 3.2, 3.3, 3.4, 3.5, 3.6, 3.7, 3.8, 3.9],
]

B_Y172_S1 = [
    [3.8, 4.05, 4.3, 4.55, 4.8, 5.05, 5.3, 5.6],
    [3.9, 4.15, 4.4, 4.65, 4.9, 5.15, 5.4, 5.8, 6.5],
    [2.8, 4.05, 4.3, 4.55, 4.8, 5.05, 5.3, 5.6],
    [3.6, 4.15, 4.4, 4.65, 4.9, 5.15, 5.4, 5.7, 6.0],
    [3.0, 4.0, 4.25, 4.5, 4.75, 5.0, 5.25, 5.5, 6.2],
    [3.2, 4.1, 4.35, 4.6, 4.85, 5.1, 5.4, 6.3, 7.3, 7.8],
    [2.9, 3.8, 4.25, 4.5, 4.75, 5.0, 5.25, 5.8, 7.2],
    [3.3, 4.1, 4.35, 4.6, 4.85, 5.1, 5.4, 6.0, 7.5],
    [3.0, 3.9, 4.25, 4.5, 4.75, 5.0, 5.3, 5.7, 6.5],
    [3.4, 4.1, 4.35, 4.6, 4.85, 5.1, 5.4, 6.0],
    [2.9, 3.7, 4.25, 4.5, 4.75, 5.0, 5.3, 5.6, 6.3],
    [3.1, 4.0, 4.35, 4.6, 4.85, 5.1, 5.4, 5.8, 6.6],
    [2.8, 3.6, 4.25, 4.5, 4.75, 5.0, 5.3, 5.7, 6.5, 7.0],
    [3.0, 3.9, 4.35, 4.6, 4.85, 5.1, 5.4, 6.0, 8.3],
    [2.7, 3.0, 3.3, 4.2, 4.5, 4.8, 5.1, 5.5, 6.0, 7.0, 7.5],
    [2.8, 3.1, 3.5, 4.3, 4.6, 4.9, 5.2, 5.5, 6.4, 7.6, 8.0, 8.6, 10.1],
    [2.7, 3.0, 3.3, 4.2, 4.5, 4.8, 5.1, 5.4, 6.2, 7.6],
    [2.9, 3.2, 3.6, 4.3, 4.6, 4.9, 5.2, 5.6, 6.0, 7.0],
    [2.8, 3.4, 4.2, 4.5, 4.8, 5.1, 5.4, 6.0, 7.1],
    [3.0, 3.8, 4.3, 4.6, 4.9, 5.2, 5.5, 5.9, 6.5],
    [2.8, 3.2, 3.5, 4.2, 4.5, 4.8, 5.1, 5.4, 6.2, 7.5, 8.4],
    [2.7, 3.0, 3.3, 4.3, 4.6, 4.9, 5.2, 5.5, 6.5, 8.0],
    [2.9, 3.2, 3.6, 4.2, 4.5, 4.8, 5.1, 5.4, 5.8, 6.4, 7.2],
    [3.0, 3.5, 4.0, 4.4, 4.8, 5.2, 5.6, 6.0, 6.5, 7.0, 8.0],
    [3.1, 3.6, 4.2, 4.6, 5.0, 5.4, 5.8, 6.5, 7.0, 7.5, 8.0, 8.6, 9.1],
    [3.0, 3.5, 4.0, 4.4, 4.8, 5.2, 5.6, 6.2, 7.0, 7.5, 8.7],
    [3.2, 4.1, 4.4, 4.7, 5.0, 5.3, 5.6, 6.3],
    [2.9, 3.5, 4.2, 4.5, 4.8, 5.1, 5.4, 6.0, 7.7],
    [3.3, 4.1, 4.4, 4.7, 5.0, 5.3, 5.6, 6.0],
    [3.0, 4.0, 4.25, 4.5, 4.75, 5.0, 5.25, 5.5, 5.8, 6.5],
    [3.4, 4.1, 4.35, 4.6, 4.85, 5.1, 5.35, 5.7],
    [3.2, 4.0, 4.25, 4.5, 4.75, 5.0, 5.25, 5.5, 6.1],
    [3.5, 4.1, 4.35, 4.6, 4.85, 5.1, 5.35, 5.7],
    [2.9, 4.0, 4.25, 4.5, 4.75, 5.0, 5.25, 5.5, 6.0],
    [3.1, 4.1, 4.35, 4.6, 4.85, 5.1, 5.35, 5.6, 6.2],
    [4.0, 4.25, 4.5, 4.75, 5.0, 5.25, 5.5, 5.8],
    [4.1, 4.35, 4.6, 4.85, 5.1, 5.35, 5.7],
    [4.0, 4.25, 4.5, 4.75, 5.0, 5.25, 5.5, 5.8],
    [4.1, 4.35, 4.6, 4.85, 5.1, 5.35, 5.6],
    [4.0, 4.25, 4.5, 4.75, 5.0, 5.25, 5.5, 5.8],
    [4.1, 4.35, 4.6, 4.85, 5.1, 5.35],
]

B_E166_S1 = [
    [3.0, 3.6, 3.9, 4.2, 4.5, 4.8, 5.1, 5.4, 5.7],
    [2.9, 3.45, 3.75, 4.05, 4.35, 4.65, 4.95, 5.25, 5.55, 5.9],
    [2.8, 3.3, 3.6, 3.9, 4.2, 4.5, 4.8, 5.1, 5.4],
    [2.75, 3.0, 3.3, 3.7, 4.1, 4.5, 4.9, 5.3, 5.8],
    [2.7, 2.9, 3.1, 3.5, 3.9, 4.3, 4.7, 5.1, 5.6],
    [2.75, 2.95, 3.2, 3.6, 4.0, 4.4, 4.8, 5.4, 7.3],
    [2.7, 2.85, 3.0, 3.2, 3.6, 4.2, 4.7, 5.2, 6.0],
    [2.75, 2.95, 3.15, 3.6, 4.0, 4.4, 4.8, 5.3, 6.6],
    [2.7, 2.85, 3.0, 3.2, 3.7, 4.3, 4.8, 5.3, 5.9],
    [2.75, 2.95, 3.15, 3.8, 4.2, 4.6, 5.0, 5.4, 6.2],
    [2.8, 3.1, 3.5, 3.9, 4.3, 4.7, 5.1, 5.5, 5.9, 6.5],
    [2.9, 3.4, 3.8, 4.2, 4.6, 5.0, 5.4, 5.8, 6.2, 7.0],
    [2.8, 3.2, 3.6, 4.0, 4.4, 4.8, 5.2, 5.6, 6.2, 7.5],
    [2.9, 3.4, 3.8, 4.2, 4.6, 5.0, 5.4, 5.8, 6.3, 7.2],
    [2.8, 3.2, 3.6, 4.0, 4.4, 4.8, 5.2, 5.6, 6.2, 7.0, 8.0, 8.5],
    [2.8, 3.3, 3.8, 4.2, 4.6, 5.0, 5.4, 5.8, 6.5, 7.2, 10.5],
    [2.9, 3.3, 3.7, 4.1, 4.5, 4.9, 5.3, 5.7, 6.3, 7.0],
    [3.0, 3.5, 3.9, 4.3, 4.7, 5.1, 5.5, 5.9, 6.4, 7.5],
    [2.8, 3.2, 3.7, 4.1, 4.5, 4.9, 5.3, 5.7, 6.2],
    [3.0, 3.5, 3.9, 4.3, 4.7, 5.1, 5.5, 5.9, 6.3, 6.8],
    [3.4, 3.8, 4.2, 4.6, 5.0, 5.4, 5.8, 6.3, 7.0, 8.5],
    [3.6, 4.0, 4.4, 4.8, 5.2, 5.6, 6.0, 6.5, 7.2, 7.8, 9.0],
    [3.8, 4.2, 4.6, 5.0, 5.4, 5.8, 6.2, 6.6, 7.2, 7.8, 8.8],
    [4.0, 4.4, 4.8, 5.2, 5.6, 6.0, 6.5, 7.0, 7.5, 8.0, 8.6, 9.6],
    [4.2, 4.6, 5.0, 5.4, 5.8, 6.2, 6.7, 7.2, 7.8, 8.4, 9.0, 9.6, 10.3],
    [3.8, 4.2, 4.6, 5.0, 5.4, 5.8, 6.3, 7.0, 7.6, 8.2, 9.2],
    [3.0, 3.6, 4.1, 4.5, 4.9, 5.3, 5.7, 6.5, 8.0],
    [2.8, 3.4, 3.9, 4.3, 4.7, 5.1, 5.5, 6.0],
    [2.9, 3.6, 4.0, 4.4, 4.8, 5.2, 5.6, 5.9, 6.5],
    [2.8, 3.4, 3.9, 4.3, 4.7, 5.1, 5.5, 5.7],
    [2.9, 3.6, 4.0, 4.4, 4.8, 5.2, 5.6, 5.8, 6.3],
    [2.8, 3.5, 3.9, 4.3, 4.7, 5.1, 5.5],
    [3.0, 3.6, 4.0, 4.4, 4.8, 5.2, 5.6, 5.8, 6.5],
    [2.9, 3.5, 3.9, 4.3, 4.7, 5.1, 5.5],
    [2.8, 3.8, 4.2, 4.6, 5.0, 5.4, 5.8, 6.3],
    [3.6, 3.95, 4.25, 4.55, 4.85, 5.15, 5.45, 5.7],
    [3.8, 4.1, 4.4, 4.7, 5.0, 5.3, 5.6, 5.8],
    [3.7, 3.95, 4.25, 4.55, 4.85, 5.15, 5.45],
    [3.8, 4.1, 4.4, 4.7, 5.0, 5.3, 5.6],
    [3.7, 3.95, 4.25, 4.55, 4.85, 5.15, 5.45],
    [3.8, 4.1, 4.4, 4.7, 5.0],
]

B_F140_S1 = [
    [6.3, 6.8, 7.2, 7.6, 8.0, 8.4, 8.8, 9.2, 9.6, 10.0, 10.5],
    [6.5, 7.0, 7.4, 7.8, 8.2, 8.6, 9.0, 9.4, 9.8, 10.3],
    [4.8, 6.8, 7.2, 7.6, 8.0, 8.4, 8.8, 9.2, 9.6, 10.0],
    [6.6, 7.0, 7.4, 7.8, 8.2, 8.6, 9.0, 9.4],
    [6.5, 6.8, 7.2, 7.6, 8.0, 8.4, 8.8, 9.3],
    [7.0, 7.4, 7.8, 8.2, 8.6, 9.0, 9.4, 9.8, 10.4, 10.9, 11.6],
    [7.2, 7.6, 8.0, 8.4, 8.8, 9.2, 9.6, 10.0, 10.4, 10.8, 11.3, 11.9],
    [7.0, 7.4, 7.8, 8.2, 8.6, 9.0, 9.4, 9.8, 10.2, 10.6, 11.1, 11.8],
    [6.5, 7.0, 7.4, 7.8, 8.2, 8.6, 9.0, 9.4, 9.8, 10.2, 10.6],
    [5.8, 6.2, 6.6, 7.0, 7.4, 7.8, 8.2, 8.6, 9.0, 9.8],
    [5.0, 5.4, 5.8, 6.2, 6.6, 7.0, 7.4, 7.8, 8.2, 9.0],
    [3.2, 4.5, 5.2, 5.6, 6.0, 6.4, 6.8, 7.2, 7.6, 8.5],
    [5.5, 5.9, 6.3, 6.7, 7.1, 7.5, 7.9, 8.3, 8.7, 9.5, 10.3],
    [5.6, 6.0, 6.4, 6.8, 7.2, 7.6, 8.0, 8.4, 8.8, 9.6, 10.8],
    [5.3, 5.7, 6.1, 6.5, 6.9, 7.3, 7.7, 8.1, 8.5, 9.0, 10.0, 11.0, 12.0],
    [4.9, 5.3, 5.7, 6.1, 6.5, 6.9, 7.3, 7.7, 8.1, 8.8, 9.8],
    [4.8, 5.2, 5.6, 6.0, 6.4, 6.8, 7.2, 7.6, 8.0, 8.8],
    [4.9, 5.3, 5.7, 6.1, 6.5, 6.9, 7.3, 7.7, 8.1, 8.9],
    [5.0, 5.4, 5.8, 6.2, 6.6, 7.0, 7.4, 7.8, 8.2, 8.6, 9.3],
    [5.1, 5.5, 5.9, 6.3, 6.7, 7.1, 7.5, 7.9, 8.3, 8.7, 9.6],
    [5.8, 6.2, 6.6, 7.0, 7.4, 7.8, 8.2, 8.6, 9.0, 9.5, 10.2, 10.8],
    [6.0, 6.4, 6.8, 7.2, 7.6, 8.0, 8.4, 8.8, 9.2, 9.7, 10.4, 11.6],
    [5.8, 6.2, 6.6, 7.0, 7.4, 7.8, 8.2, 8.6, 9.0, 9.6, 10.3],
    [6.0, 6.4, 6.8, 7.2, 7.6, 8.0, 8.4, 8.8, 9.2, 9.8, 10.5, 11.2, 12.0],
    [6.2, 6.6, 7.0, 7.4, 7.8, 8.2, 8.6, 9.0, 9.4, 10.0, 10.8, 11.6, 12.5],
    [5.8, 6.2, 6.6, 7.0, 7.4, 7.8, 8.2, 8.6, 9.0, 9.8, 11.0],
    [5.9, 6.3, 6.7, 7.1, 7.5, 7.9, 8.3, 8.7, 9.6, 10.8],
    [5.6, 6.0, 6.4, 6.8, 7.2, 7.6, 8.0, 8.4],
    [5.5, 5.9, 6.3, 6.7, 7.1, 7.5, 7.9, 8.2],
    [4.9, 5.8, 6.2, 6.6, 7.0, 7.4, 7.8, 8.0],
    [5.6, 6.0, 6.4, 6.8, 7.2, 7.6, 8.0, 8.5],
    [6.0, 6.4, 6.8, 7.2, 7.6, 8.0, 8.4, 8.8, 9.2],
    [6.8, 7.2, 7.6, 8.0, 8.4, 8.8, 9.2, 9.7],
    [7.0, 7.4, 7.8, 8.2, 8.6, 9.0, 9.4],
    [6.8, 7.2, 7.6, 8.0, 8.4, 8.8, 9.2],
    [7.0, 7.4, 7.8, 8.2, 8.6, 9.0, 9.4],
    [7.2, 7.6, 8.0, 8.4, 8.8, 9.2],
    [7.1, 7.5, 7.9, 8.3, 8.7, 9.1],
    [7.0, 7.4, 7.8, 8.2, 8.6, 9.0],
    [6.5, 7.0, 7.4, 7.8, 8.2, 8.6, 9.0],
    [7.3, 7.7, 8.1, 8.5, 8.8],
]

SERIES = [A_F140_H163, A_E166_L1, A_F140_Y172, A_Y172_S1, A_E166_S1, A_F140_S1,
          B_F140_H163, B_E166_L1, B_F140_Y172, B_Y172_S1, B_E166_S1, B_F140_S1]
LETTERS = ["a", "b", "c", "d", "e", "f", "g", "h", "i", "j", "k", "l"]
YLABELS = ["F140--H163 ($\\AA$)", "E166--L1 ($\\AA$)", "F140--Y172 ($\\AA$)",
           "Y172--S1* ($\\AA$)", "E166--S1* ($\\AA$)", "F140--S1* ($\\AA$)"] * 2
# reference distances (dashed lines)
REF_LINES = [[4.1], [7.0], [4.2], [3.4], [4.5, 2.8], [2.9]] * 2
YLIMS = [(3, 9), (4, 10), (2.57, 5.23), (2.25, 12), (2, 14), (2, 18),
         (3, 9), (4, 10), (2.62, 5.54), (2.7, 12), (2, 14), (2, 18)]
YTICKS = [[3, 5, 7, 9], [4, 6, 8, 10], [3, 4, 5], [3, 6, 9, 12], [2, 6, 10, 14], [2, 6, 10, 14, 18]] * 2
YMINOR = [[4, 6, 8], [5, 7, 9], [3.5, 4.5], [], [], [4, 8, 12, 16]] * 2

W, H = 785, 1152
# axes boxes in pixels: left, right, top, bottom
ROWS = [(42, 241), (321, 519), (612, 813), (893, 1086)]
COLS_TOP = [(153, 310), (388, 545), (624, 778)]
COLS_BOT = [(153, 312), (391, 551), (629, 787)]
LETTER_POS = [(100, 25), (325, 25), (573, 28), (98, 303), (326, 305), (567, 311),
              (98, 603), (333, 602), (568, 605), (92, 878), (333, 880), (564, 887)]

sns.set_style("ticks")
plt.rcParams["font.family"] = ["DejaVu Sans"]
plt.rcParams["mathtext.fontset"] = "dejavusans"
plt.rcParams["axes.edgecolor"] = "#333333"
plt.rcParams["axes.linewidth"] = 1.0
plt.rcParams["xtick.color"] = "#333333"
plt.rcParams["ytick.color"] = "#333333"

fig = plt.figure(figsize=(W / 100, H / 100), dpi=100)

for i, rows in enumerate(SERIES):
    r, c = divmod(i, 3)
    top, bot = ROWS[r]
    left, right = (COLS_TOP if r < 2 else COLS_BOT)[c]
    ax = fig.add_axes([left / W, 1 - bot / H, (right - left) / W, (bot - top) / H])

    t_vals, d_vals = [], []
    for t, col in zip(TIME, rows):
        for v in col:
            t_vals.append(t)
            d_vals.append(v)
    df = pd.DataFrame({"time": t_vals, "dist": d_vals})

    sns.scatterplot(data=df, x="time", y="dist", ax=ax, color="royalblue",
                    s=15, linewidth=0, alpha=1, legend=False, zorder=2)
    for y0 in REF_LINES[i]:
        ax.axhline(y0, color="magenta", lw=2.2, dashes=(5, 2.3), zorder=3)

    ax.set_xlim(-0.1, 2.1)
    ax.set_ylim(*YLIMS[i])
    ax.set_xticks([0, 1, 2])
    ax.set_yticks(YTICKS[i])
    ax.set_yticks(YMINOR[i], minor=True)
    ax.tick_params(axis="both", which="major", labelsize=13, length=4, width=1, pad=2)
    ax.tick_params(axis="y", which="minor", length=2.2, width=0.8)
    ax.set_xlabel("Time ($\\mu$s)", fontsize=13, labelpad=5)
    ax.set_ylabel(YLABELS[i], fontsize=12.5, labelpad=6)
    for s in ax.spines.values():
        s.set_visible(True)

    lx, ly = LETTER_POS[i]
    fig.text(lx / W, 1 - ly / H, LETTERS[i], fontsize=19, ha="center", va="center")

# braces and protomer labels
over = fig.add_axes([0, 0, 1, 1], zorder=-1)
over.set_xlim(0, W)
over.set_ylim(H, 0)
over.axis("off")


def brace(x_line, x_end, x_tip, y_top, y_tip, y_bot):
    verts = [(x_end, y_top), (x_line, y_top), (x_line, y_top + 9),
             (x_line, y_tip - 9),
             (x_line, y_tip), (x_tip, y_tip),
             (x_line, y_tip), (x_line, y_tip + 9),
             (x_line, y_bot - 9),
             (x_line, y_bot), (x_end, y_bot)]
    codes = [Path.MOVETO, Path.CURVE3, Path.CURVE3, Path.LINETO,
             Path.CURVE3, Path.CURVE3, Path.CURVE3, Path.CURVE3,
             Path.LINETO, Path.CURVE3, Path.CURVE3]
    over.add_patch(PathPatch(Path(verts, codes), fill=False, lw=1.2, edgecolor="#555555"))


brace(58, 65, 50, 16, 287, 557)
brace(59, 65, 50, 600, 863, 1135)
over.text(23, 280, "Protomer A", rotation=90, fontsize=19.5, ha="center", va="center")
over.text(23, 861, "Protomer B", rotation=90, fontsize=19.5, ha="center", va="center")

fig.savefig("out.png", dpi=100)
